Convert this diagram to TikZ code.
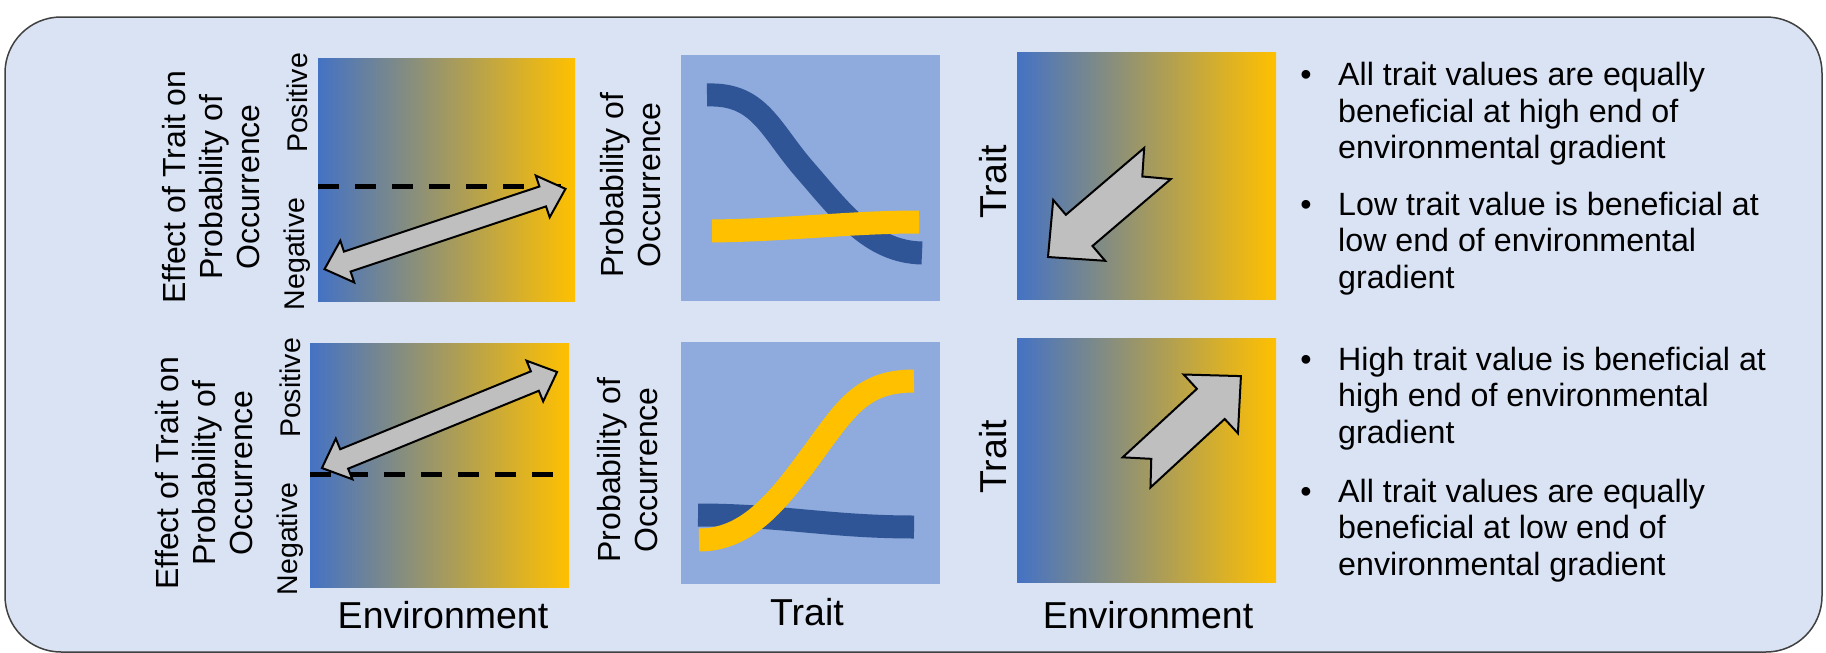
\documentclass[tikz,border=0pt]{standalone}
\usepackage{fontspec}
\setmainfont{Liberation Sans}
\usepackage{tikz}
\definecolor{boxfill}{HTML}{DAE3F3}
\definecolor{boxline}{HTML}{404040}
\definecolor{envblue}{HTML}{4472C4}
\definecolor{envgold}{HTML}{FFC000}
\definecolor{plotfill}{HTML}{8FAADC}
\definecolor{darkcurve}{HTML}{2F5597}
\definecolor{goldcurve}{HTML}{FFC000}
\definecolor{arrowgray}{HTML}{BFBFBF}

\begin{document}
\begin{tikzpicture}[x=1pt,y=-1pt]
	\tikzstyle{envpanel}=[left color=envblue,right color=envgold]
	\tikzstyle{probpanel}=[fill=plotfill]
	\tikzstyle{trendline}=[line width=23pt]
	\tikzstyle{zeroline}=[line width=5pt,dash pattern=on 21pt off 16pt]
	\tikzstyle{fatarrow}=[fill=arrowgray,draw=black,line width=2pt]
	\tikzstyle{sidelabel}=[rotate=90,align=center,font=\fontsize{32}{37}\selectfont]
	\tikzstyle{signlabel}=[rotate=90,font=\fontsize{28.5}{34}\selectfont]
	\tikzstyle{traitlabel}=[rotate=90,font=\fontsize{37.5}{44}\selectfont]
	\tikzstyle{axislabel}=[anchor=base,font=\fontsize{37.5}{44}\selectfont]
	\tikzstyle{bullettext}=[anchor=north west,align=left,inner sep=0pt,font=\fontsize{32.2}{36.7}\selectfont]
	\tikzstyle{bulletdot}=[anchor=base,inner sep=0pt,font=\fontsize{32.2}{36.7}\selectfont]
	\useasboundingbox (0,0) rectangle (1826,653);
	\draw[boxline,fill=boxfill,line width=1.5pt,rounded corners=56pt] (5,17) rectangle (1822,652);

	\shade[envpanel] (318,58) rectangle (575,301);
	\shade[envpanel] (310,343) rectangle (569,587);
	\shade[envpanel] (1017,52) rectangle (1276,299);
	\shade[envpanel] (1017,338) rectangle (1276,582);
	\fill[probpanel] (681,55) rectangle (940,301);
	\fill[probpanel] (681,342) rectangle (940,584);

	\draw[zeroline] (318,186) -- (563,186);
	\draw[zeroline] (310,474) -- (556,474);

	\draw[trendline,darkcurve] (707,95) .. controls (760,93) and (770,130) .. (805,170) .. controls (840,210) and (870,252) .. (922,253);
	\draw[trendline,goldcurve] (712,231) .. controls (790,230) and (850,222) .. (919,222);
	\draw[trendline,darkcurve] (698,515) .. controls (780,515) and (830,527) .. (914,527);
	\draw[trendline,goldcurve] (699,540) .. controls (745,540) and (775,505) .. (808,460) .. controls (845,410) and (860,381) .. (914,381);

	\foreach \cx/\cy/\ang in {445/229/18.43, 439.5/420/22.22}
		\draw[fatarrow,shift={(\cx,\cy)},rotate=\ang] (127,0) -- (103,22) -- (103,10.5) -- (-103,10.5) -- (-103,22) -- (-127,0) -- (-103,-22) -- (-103,-10.5) -- (103,-10.5) -- (103,-22) -- cycle;
	\foreach \cx/\cy/\ang/\len in {1102.75/210.25/220.5/72, 1188.75/424.25/42.7/71}
		\draw[fatarrow,shift={(\cx,\cy)},rotate=\ang] ({\len},0) -- ({\len-41},40) -- ({\len-41},20.5) -- ({-\len},20.5) -- ({-\len+20},0) -- ({-\len},-20.5) -- ({\len-41},-20.5) -- ({\len-41},-40) -- cycle;

	\node[sidelabel] (effA) at (211,187) {Effect of Trait on\\Probability of\\Occurrence};
	\node[signlabel] (posA) at (297,103) {Positive};
	\node[signlabel] (negA) at (297,254) {Negative};
	\node[sidelabel] (effD) at (204,473) {Effect of Trait on\\Probability of\\Occurrence};
	\node[signlabel] (posD) at (290,388) {Positive};
	\node[signlabel] (negD) at (290,539) {Negative};
	\node[sidelabel] (probB) at (631,185) {Probability of\\Occurrence};
	\node[sidelabel] (probE) at (628,470) {Probability of\\Occurrence};
	\node[traitlabel] (traitC) at (993,182) {Trait};
	\node[traitlabel] (traitF) at (993,457) {Trait};
	\node[axislabel] (envD) at (443,628) {Environment};
	\node[axislabel] (traitE) at (807,625) {Trait};
	\node[axislabel] (envF) at (1148,628) {Environment};

	\node[bulletdot] (dot1) at (1306,85) {\textbullet};
	\node[bullettext] (txt1) at (1338,62) {All trait values are equally\\beneficial at high end of\\environmental gradient};
	\node[bulletdot] (dot2) at (1306,215) {\textbullet};
	\node[bullettext] (txt2) at (1338,191.5) {Low trait value is beneficial at\\low end of environmental\\gradient};
	\node[bulletdot] (dot3) at (1306,370) {\textbullet};
	\node[bullettext] (txt3) at (1338,346.5) {High trait value is beneficial at\\high end of environmental\\gradient};
	\node[bulletdot] (dot4) at (1306,502) {\textbullet};
	\node[bullettext] (txt4) at (1338,478.5) {All trait values are equally\\beneficial at low end of\\environmental gradient};
\end{tikzpicture}
\end{document}
